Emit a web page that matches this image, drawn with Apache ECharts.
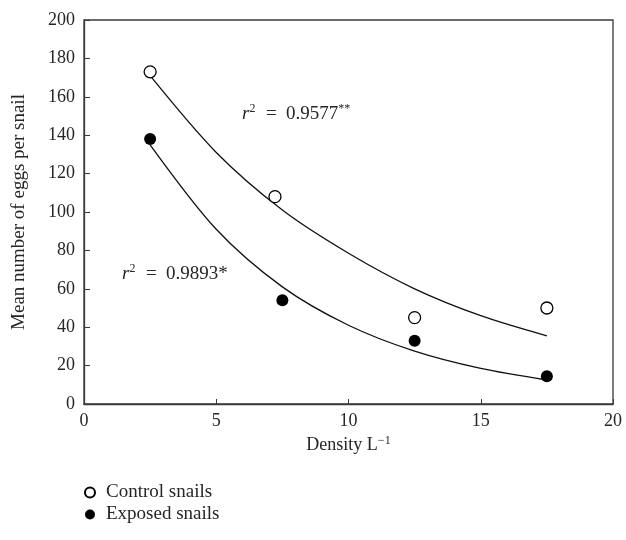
<!DOCTYPE html>
<html>
<head>
<meta charset="utf-8">
<script src="https://cdn.jsdelivr.net/npm/echarts@6/dist/echarts.min.js"></script>
<style>
  html, body { margin: 0; padding: 0; background: #fff; }
  #main { width: 626px; height: 540px; }
</style>
</head>
<body>
<div id="main"></div>
<script>
// measured points
var densityControl = [2.5, 7.22, 12.5, 17.5];
var eggsControl = [173, 108, 45, 50];
var densityExposed = [2.5, 7.5, 12.5, 17.5];
var eggsExposed = [138, 54, 33, 14.5];

// fitted curves
var fitDensity = [2.5, 5, 7.5, 10, 12.5, 15, 17.5];
var fitControl = [171, 131, 101, 78.5, 60, 46, 35.5];
var fitExposed = [135, 91, 61, 41, 27.5, 18.5, 12.5];

var xTicks = [0, 5, 10, 15, 20];
var yTicks = [0, 20, 40, 60, 80, 100, 120, 140, 160, 180, 200];

function pairs(xs, ys) {
    return xs.map(function (x, i) { return [x, ys[i]]; });
}

var font = 'Liberation Serif';
var ink = '#262626';
var fs = 18;

var supRich = {
    i: { fontFamily: font, fontSize: fs + 1, fontStyle: 'italic', fill: ink },
    s: { fontFamily: font, fontSize: 12, fill: ink, verticalAlign: 'top', padding: [0, 1, 10, 0] }
};

var myChart = echarts.init(document.getElementById('main'));

myChart.setOption({
    animation: false,
    textStyle: { fontFamily: font, color: ink },
    grid: {
        left: 84, right: 13, top: 20, bottom: 136,
        show: true, borderColor: '#3a3a3a', borderWidth: 1.3
    },
    legend: {
        data: ['Control snails', 'Exposed snails'],
        orient: 'vertical',
        left: 79, top: 478,
        itemWidth: 10, itemHeight: 10, itemGap: 3,
        textStyle: { fontFamily: font, fontSize: fs + 1, color: ink, padding: [0, 0, 0, 6] }
    },
    xAxis: {
        type: 'value',
        min: xTicks[0], max: xTicks[xTicks.length - 1], interval: 5,
        name: 'Density L{sup|−1}',
        nameLocation: 'middle', nameGap: 29,
        nameTextStyle: {
            fontFamily: font, fontSize: fs, color: ink,
            rich: { sup: { fontFamily: font, fontSize: 12, color: ink, verticalAlign: 'top', padding: [0, 0, 9, 0] } }
        },
        axisLine: { lineStyle: { color: '#3a3a3a', width: 1.3 } },
        axisTick: { inside: true, length: 5, lineStyle: { color: '#3a3a3a' } },
        axisLabel: { fontFamily: font, fontSize: fs, color: ink, margin: 8 },
        splitLine: { show: false }
    },
    yAxis: {
        type: 'value',
        min: yTicks[0], max: yTicks[yTicks.length - 1], interval: 20,
        name: 'Mean number of eggs per snail',
        nameLocation: 'middle', nameGap: 55,
        nameTextStyle: { fontFamily: font, fontSize: fs + 1, color: ink },
        axisLine: { lineStyle: { color: '#3a3a3a', width: 1.3 } },
        axisTick: { inside: true, length: 6, lineStyle: { color: '#3a3a3a' } },
        axisLabel: { fontFamily: font, fontSize: fs, color: ink, margin: 9 },
        splitLine: { show: false }
    },
    graphic: [
        {
            type: 'text', left: 242, top: 103,
            style: {
                text: '{i|r}{s|2}  =  0.9577{s|**}',
                font: (fs + 1) + 'px "Liberation Serif"', fill: ink,
                rich: supRich
            }
        },
        {
            type: 'text', left: 122, top: 263,
            style: {
                text: '{i|r}{s|2}  =  0.9893*',
                font: (fs + 1) + 'px "Liberation Serif"', fill: ink,
                rich: supRich
            }
        }
    ],
    series: [
        {
            name: 'Control fit', type: 'line', smooth: 0.3,
            data: pairs(fitDensity, fitControl),
            showSymbol: false, lineStyle: { color: '#111', width: 1.3 }, z: 1
        },
        {
            name: 'Exposed fit', type: 'line', smooth: 0.3,
            data: pairs(fitDensity, fitExposed),
            showSymbol: false, lineStyle: { color: '#111', width: 1.3 }, z: 1
        },
        {
            name: 'Control snails', type: 'scatter',
            data: pairs(densityControl, eggsControl),
            symbol: 'circle', symbolSize: 12,
            itemStyle: { color: '#fff', borderColor: '#000', borderWidth: 1.3, opacity: 1 }, z: 3
        },
        {
            name: 'Exposed snails', type: 'scatter',
            data: pairs(densityExposed, eggsExposed),
            symbol: 'circle', symbolSize: 12,
            itemStyle: { color: '#000', borderColor: '#000', borderWidth: 0, opacity: 1 }, z: 3
        }
    ]
});
</script>
</body>
</html>
